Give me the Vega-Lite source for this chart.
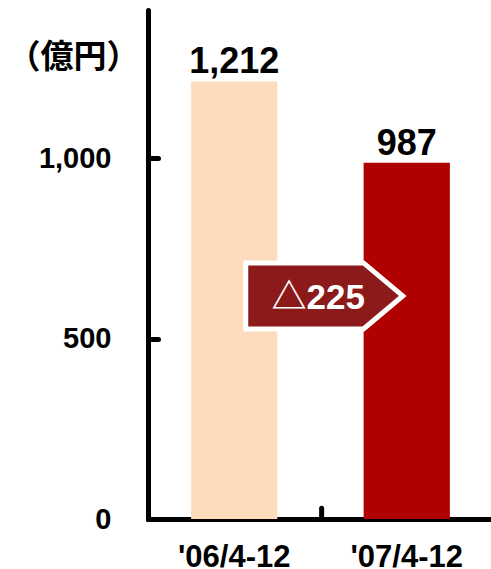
{
  "$schema": "https://vega.github.io/schema/vega-lite/v6.json",
  "width": 345,
  "height": 509,
  "autosize": "none",
  "padding": {"left": 148, "top": 10, "right": 0, "bottom": 50},
  "background": "white",
  "config": {"view": {"stroke": null}, "font": "Liberation Sans"},
  "data": {"values": [
    {"period": "'06/4-12", "value": 1212, "label": "1,212"},
    {"period": "'07/4-12", "value": 987, "label": "987"}
  ]},
  "encoding": {
    "x": {
      "field": "period", "type": "nominal", "sort": null,
      "scale": {"paddingInner": 0.5, "paddingOuter": 0.25},
      "axis": {
        "title": null, "labelAngle": 0, "labelFont": "Liberation Sans", "labelFontSize": 31,
        "labelFontWeight": "bold", "labelColor": "black", "labelPadding": 23, "ticks": false,
        "domainColor": "black", "domainWidth": 5, "domainCap": "round"
      }
    },
    "y": {
      "field": "value", "type": "quantitative",
      "scale": {"domain": [0, 1410], "nice": false},
      "axis": {
        "values": [0, 500, 1000], "format": ",.0f", "grid": false,
        "labelFont": "Liberation Sans", "labelFontSize": 29, "labelFontWeight": "bold", "labelColor": "black",
        "labelPadding": 47, "labelBaseline": "middle",
        "domainColor": "black", "domainWidth": 5, "domainCap": "round",
        "tickColor": "black", "tickWidth": 5, "tickSize": -10, "tickCap": "round",
        "title": "（億円）", "titleAngle": 0, "titleX": -75, "titleY": 47,
        "titleAlign": "center", "titleBaseline": "middle",
        "titleFont": "Noto Sans CJK JP", "titleFontSize": 33, "titleFontWeight": "bold", "titleColor": "black"
      }
    }
  },
  "layer": [
    {
      "mark": {"type": "bar"},
      "encoding": {
        "color": {"field": "period", "type": "nominal", "sort": null,
          "scale": {"range": ["#FDDCBD", "#B00000"]}, "legend": null}
      }
    },
    {
      "mark": {"type": "text", "baseline": "alphabetic", "dy": -8, "font": "Liberation Sans",
        "fontSize": 36, "fontWeight": "bold", "color": "black"},
      "encoding": {"text": {"field": "label"}}
    },
    {
      "data": {"values": [{"period": "'07/4-12", "value": 0, "value2": 30}]},
      "mark": {"type": "rule", "color": "black", "strokeWidth": 5, "strokeCap": "round", "xOffset": -42},
      "encoding": {
        "x": {"field": "period", "type": "nominal", "bandPosition": 0},
        "y2": {"field": "value2"}
      }
    },
    {
      "data": {"values": [{"period": "'06/4-12", "value": 618, "label": "△225"}]},
      "layer": [
        {
          "mark": {"type": "point", "filled": true, "opacity": 1, "xOffset": 90,
            "shape": "M-1,-0.42L0.5,-0.42L1,0L0.5,0.42L-1,0.42Z", "size": 24649,
            "fill": "#8C1A1A", "stroke": "white", "strokeWidth": 5, "strokeJoin": "miter"},
          "encoding": {}
        },
        {
          "mark": {"type": "text", "xOffset": 84, "baseline": "alphabetic", "dy": 13,
            "font": "Liberation Sans, Noto Sans CJK JP", "fontSize": 35, "fontWeight": "bold", "color": "white"},
          "encoding": {"text": {"field": "label"}}
        }
      ]
    }
  ]
}
